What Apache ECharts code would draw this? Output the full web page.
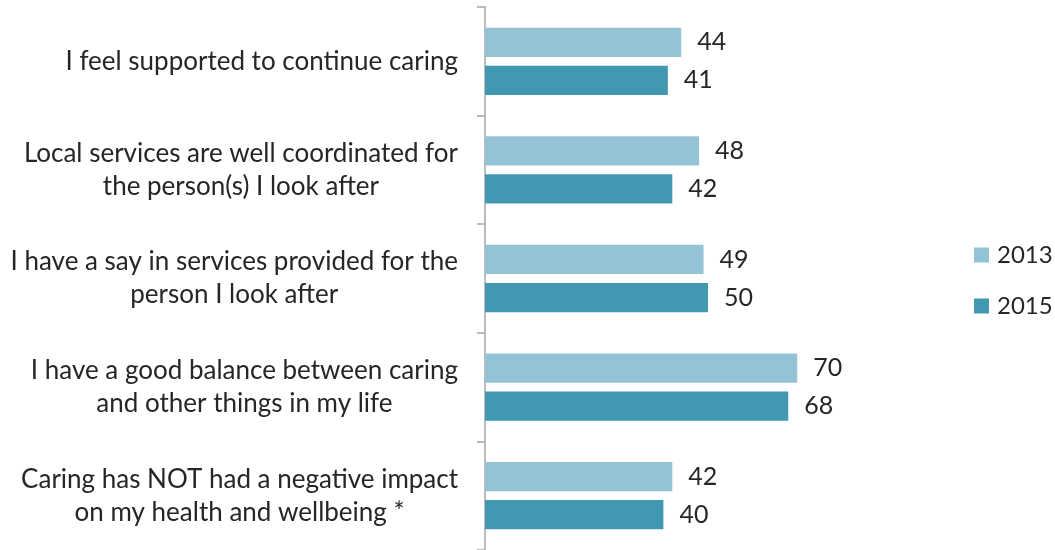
<!DOCTYPE html>
<html><head><meta charset="utf-8">
<script src="https://cdn.jsdelivr.net/npm/echarts@6/dist/echarts.min.js"></script>
<style>html,body{margin:0;padding:0;background:#fff}#c{width:1055px;height:550px}</style>
</head><body><div id="c"></div>
<script>
const categories = [
  "I feel supported to continue caring",
  "Local services are well coordinated for\nthe person(s) I look after",
  "I have a say in services provided for the\nperson I look after",
  "I have a good balance between caring\nand other things in my life",
  "Caring has NOT had a negative impact\non my health and wellbeing *"
];
const values2013 = [44, 48, 49, 70, 42];
const values2015 = [41, 42, 50, 68, 40];
const seriesNames = ["2013", "2015"];

const FONT = "Lato";
const chart = echarts.init(document.getElementById('c'), null, {renderer: 'canvas'});
const labelStyle = {show: true, position: 'right', distance: 16, color: '#262626', fontSize: 25, fontFamily: FONT};
chart.setOption({
  animation: false,
  textStyle: {fontFamily: FONT},
  grid: {left: 485, top: 7, width: 446, height: 545, containLabel: false},
  legend: {
    orient: 'vertical', left: 969, top: 238, itemWidth: 15, itemHeight: 15, itemGap: 27,
    icon: 'rect',
    textStyle: {fontSize: 24, color: '#262626', fontFamily: FONT, padding: [0, 0, 0, 3]},
    data: seriesNames
  },
  xAxis: {type: 'value', min: 0, max: 100, show: false},
  yAxis: {
    type: 'category', inverse: true, data: categories,
    axisLine: {show: true, lineStyle: {color: '#a6a6a6', width: 1.5}},
    axisTick: {show: true, length: 8, lineStyle: {color: '#a6a6a6', width: 1.5}},
    axisLabel: {
      margin: 27, fontSize: 26, color: '#262626', fontFamily: FONT, align: 'right',
      formatter: function (v) { return v.split('\n').map(function (l) { return '{c|' + l + '}'; }).join('\n'); },
      rich: {c: {align: 'center', fontSize: 26, lineHeight: 33, color: '#262626', fontFamily: FONT}}
    }
  },
  series: [
    {name: seriesNames[0], type: 'bar', data: values2013, barCategoryGap: '38%', barGap: '30%',
     itemStyle: {color: '#93c3d5'}, label: labelStyle},
    {name: seriesNames[1], type: 'bar', data: values2015,
     itemStyle: {color: '#4298b0'}, label: labelStyle}
  ]
});
</script></body></html>
